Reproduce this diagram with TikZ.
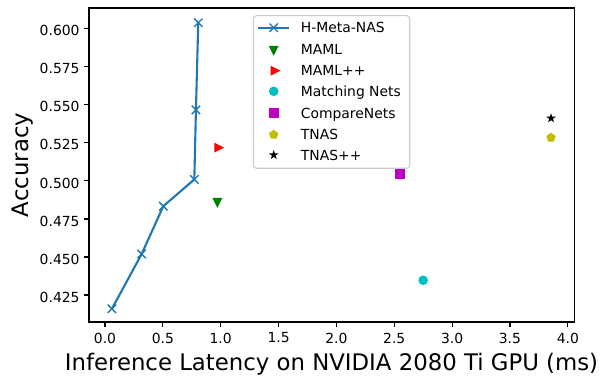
\documentclass[tikz,border=0pt]{standalone}
\usepackage{fontspec}
\setmainfont{DejaVu Sans}
\usetikzlibrary{shapes.geometric}

\definecolor{hblue}{RGB}{31,119,180}
\definecolor{mgreen}{RGB}{0,128,0}
\definecolor{mred}{RGB}{255,0,0}
\definecolor{mcyan}{RGB}{0,191,191}
\definecolor{mmagenta}{RGB}{191,0,191}
\definecolor{myellow}{RGB}{191,191,0}
\definecolor{legframe}{gray}{0.8}

\tikzset{
  hline/.style={hblue, line width=2.1pt, line join=round},
  xmark/.pic={\draw[hblue, line width=1.4pt] (-4.2pt,-4.2pt) -- (4.2pt,4.2pt) (-4.2pt,4.2pt) -- (4.2pt,-4.2pt);},
  mk/.style={fill=#1, draw=none, inner sep=0pt, outer sep=0pt},
  vmark/.style={mk=#1, isosceles triangle, isosceles triangle stretches, minimum width=9.9pt, minimum height=9.9pt, shape border rotate=270},
  rmark/.style={mk=#1, isosceles triangle, isosceles triangle stretches, minimum width=9.9pt, minimum height=9.9pt},
  omark/.style={mk=#1, circle, minimum size=9.6pt},
  smark/.style={mk=#1, rectangle, minimum size=9.7pt},
  pmark/.style={mk=#1, regular polygon, regular polygon sides=5, minimum size=9.8pt},
  starmark/.style={mk=#1, star, star points=5, star point ratio=2.618, minimum size=10pt},
  ticklabel/.style={font=\fontsize{13.9}{16}\selectfont, inner sep=0pt},
  leglabel/.style={font=\fontsize{13.9}{16}\selectfont, inner sep=0pt, anchor=base west, yshift=-5.3pt},
  axlabel/.style={font=\fontsize{22.8}{27}\selectfont, inner sep=0pt, anchor=base},
  legbox/.style={draw=legframe, fill=white, line width=1.1pt, rounded corners=3pt, inner sep=0pt},
}

\begin{document}
\begin{tikzpicture}[x=1pt,y=1pt]
\useasboundingbox (0,0) rectangle (602,375);
% data coordinates: latency (ms) against accuracy
\begin{scope}[shift={(105pt,-566.5pt)}, x=115.7pt, y=1521.1pt]
\draw[line width=1.1pt] (-0.138,0.40725) rectangle (4.054,0.6137);
\foreach \v [count=\i] in {0.0,0.5,1.0,1.5,2.0,2.5,3.0,3.5,4.0} {
  \draw[line width=1.1pt] (\v,0.40725) -- ++(0,-4.9pt);
  \node[ticklabel, anchor=north, yshift=-10.5pt] (xtick\i) at (\v,0.40725) {\v};
}
\foreach \v [count=\i] in {0.425,0.450,0.475,0.500,0.525,0.550,0.575,0.600} {
  \draw[line width=1.1pt] (-0.138,\v) -- ++(-4.9pt,0);
  \node[ticklabel, anchor=east, xshift=-9.3pt, yshift=-2pt] (ytick\i) at (-0.138,\v) {\v};
}
% H-Meta-NAS curve
\coordinate (h1) at (0.06,0.416);
\coordinate (h2) at (0.317,0.452);
\coordinate (h3) at (0.504,0.4834);
\coordinate (h4) at (0.772,0.501);
\coordinate (h5) at (0.786,0.5467);
\coordinate (h6) at (0.806,0.604);
\draw[hline] (h1) -- (h2) -- (h3) -- (h4) -- (h5) -- (h6);
\foreach \i in {1,...,6} \pic at (h\i) {xmark};
% baselines
\node[vmark=mgreen] (maml) at (0.971,0.4868) {};
\node[rmark=mred] (mamlpp) at (0.971,0.5219) {};
\node[omark=mcyan] (matching) at (2.75,0.4347) {};
\node[smark=mmagenta] (compare) at (2.55,0.5046) {};
\node[pmark=myellow] (tnas) at (3.855,0.5285) {};
\node[starmark=black] (tnaspp) at (3.855,0.5412) {};
\end{scope}

\node[axlabel] (xlabel) at (331.5,5) {Inference Latency on NVIDIA 2080 Ti GPU (ms)};
\node[axlabel, rotate=90] (ylabel) at (28,210) {Accuracy};

% legend
\node[legbox, minimum width=156.2pt, minimum height=152.6pt] (legend) at (331.6,283) {};
\coordinate (legA) at (258,347.3);
\coordinate (legB) at (289,347.3);
\draw[hline] (legA) -- (legB);
\pic at (273.7,347.3) {xmark};
\node[leglabel] (lt1) at (300.7,347.3) {H-Meta-NAS};
\node[vmark=mgreen] (lm2) at (273.7,326) {};
\node[leglabel] (lt2) at (300.7,326) {MAML};
\node[rmark=mred] (lm3) at (273.7,304.3) {};
\node[leglabel] (lt3) at (300.7,304.3) {MAML++};
\node[omark=mcyan] (lm4) at (273.7,283.7) {};
\node[leglabel] (lt4) at (300.7,283.7) {Matching Nets};
\node[smark=mmagenta] (lm5) at (273.7,262) {};
\node[leglabel] (lt5) at (300.7,262) {CompareNets};
\node[pmark=myellow] (lm6) at (273.7,240.3) {};
\node[leglabel] (lt6) at (300.7,240.3) {TNAS};
\node[starmark=black] (lm7) at (273.7,220) {};
\node[leglabel] (lt7) at (300.7,220) {TNAS++};
\end{tikzpicture}
\end{document}
